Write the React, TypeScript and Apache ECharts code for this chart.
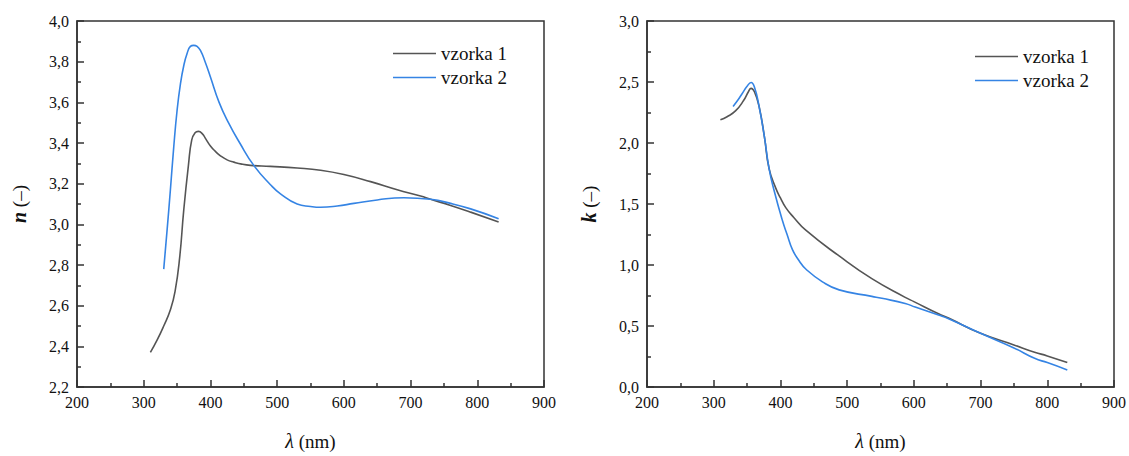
import React, { useEffect, useRef } from "react";
import * as echarts from "echarts";

const nLambda1 = [310, 320, 330, 340, 347, 354, 360, 367, 372, 377, 382, 388, 393, 400, 407, 415, 425, 435, 447, 460, 490, 530, 565, 600, 640, 680, 715, 730, 760, 790, 832];
const nValues1 = [2.37, 2.43, 2.5, 2.58, 2.67, 2.84, 3.07, 3.29, 3.415, 3.45, 3.457, 3.445, 3.42, 3.385, 3.36, 3.337, 3.317, 3.306, 3.296, 3.29, 3.285, 3.277, 3.266, 3.245, 3.21, 3.17, 3.139, 3.123, 3.093, 3.06, 3.012];
const nLambda2 = [330, 335, 340, 345, 350, 355, 360, 365, 370, 375, 380, 385, 392, 400, 413, 427, 444, 465, 490, 505, 530, 550, 565, 590, 615, 650, 690, 730, 760, 790, 832];
const nValues2 = [2.78, 2.97, 3.17, 3.38, 3.56, 3.69, 3.78, 3.84, 3.875, 3.88, 3.875, 3.855, 3.8, 3.725, 3.6, 3.5, 3.4, 3.29, 3.195, 3.15, 3.1, 3.088, 3.084, 3.09, 3.103, 3.12, 3.131, 3.123, 3.103, 3.076, 3.028];

const kLambda1 = [310, 320, 333, 345, 352, 356, 361, 368, 376, 383, 393, 400, 408, 420, 438, 488, 537, 587, 600, 637, 652, 700, 750, 781, 800, 830];
const kValues1 = [2.19, 2.215, 2.265, 2.35, 2.42, 2.448, 2.42, 2.3, 2.05, 1.79, 1.63, 1.55, 1.47, 1.39, 1.285, 1.074, 0.888, 0.735, 0.7, 0.6, 0.565, 0.44, 0.345, 0.285, 0.255, 0.2];
const kLambda2 = [329, 336, 343, 350, 356, 361, 368, 376, 383, 391, 403, 410, 418, 428, 438, 463, 488, 537, 552, 587, 602, 637, 652, 700, 750, 781, 800, 830];
const kValues2 = [2.3, 2.35, 2.408, 2.465, 2.496, 2.46, 2.3, 2.05, 1.79, 1.6, 1.364, 1.25, 1.126, 1.035, 0.967, 0.862, 0.796, 0.743, 0.727, 0.685, 0.655, 0.59, 0.56, 0.44, 0.32, 0.235, 0.2, 0.14];

const seriesNames = ["vzorka 1", "vzorka 2"];
const colors = ["#555555", "#3584e4"];

const zip = (xs: number[], ys: number[]) => xs.map((x, i) => [x, ys[i]]);

const FONT = "Liberation Serif";

function xAxisFor(gridIndex: number) {
  return {
    type: "value",
    gridIndex,
    min: 200,
    max: 900,
    interval: 100,
    name: "{i|λ} (nm)",
    nameLocation: "middle",
    nameGap: 44,
    nameTextStyle: {
      fontFamily: FONT,
      fontSize: 19,
      color: "#111",
      rich: { i: { fontStyle: "italic", fontFamily: FONT, fontSize: 20, color: "#111" } },
    },
    axisLine: { show: true, onZero: false, lineStyle: { color: "#333", width: 1.5 } },
    axisTick: { show: true, inside: true, length: 7, lineStyle: { color: "#333", width: 1.5 } },
    minorTick: { show: true, splitNumber: 2, length: 4, lineStyle: { color: "#333", width: 1.5 } },
    splitLine: { show: false },
    axisLabel: { fontFamily: FONT, fontSize: 16, color: "#111", margin: 7 },
  };
}

function yAxisFor(gridIndex: number, min: number, max: number, interval: number, letter: string) {
  return {
    type: "value",
    gridIndex,
    min,
    max,
    interval,
    name: "{i|" + letter + "} (–)",
    nameLocation: "middle",
    nameGap: 48,
    nameRotate: 90,
    nameTextStyle: {
      fontFamily: FONT,
      fontSize: 19,
      color: "#111",
      rich: { i: { fontStyle: "italic", fontWeight: "bold", fontFamily: FONT, fontSize: 20, color: "#111" } },
    },
    axisLine: { show: true, onZero: false, lineStyle: { color: "#333", width: 1.5 } },
    axisTick: { show: true, inside: true, length: 7, lineStyle: { color: "#333", width: 1.5 } },
    minorTick: { show: true, splitNumber: 2, length: 4, lineStyle: { color: "#333", width: 1.5 } },
    splitLine: { show: false },
    axisLabel: {
      fontFamily: FONT,
      fontSize: 16,
      color: "#111",
      margin: 8,
      formatter: (v: number) => v.toFixed(1).replace(".", ","),
    },
  };
}

function lineSeries(name: string, data: number[][], idx: number, color: string) {
  return {
    type: "line",
    name,
    data,
    xAxisIndex: idx,
    yAxisIndex: idx,
    smooth: 0.5,
    symbol: "none",
    lineStyle: { color, width: 1.6 },
    itemStyle: { color },
  };
}

function legendFor(left: number, top: number) {
  return {
    data: seriesNames.map((n) => ({ name: n, icon: "rect" })),
    orient: "vertical",
    left,
    top,
    padding: 0,
    itemWidth: 43,
    itemHeight: 1.6,
    itemGap: 5,
    selectedMode: false,
    textStyle: { fontFamily: FONT, fontSize: 19, lineHeight: 19, color: "#111" },
  };
}

export default function App() {
  const ref = useRef<HTMLDivElement>(null);
  useEffect(() => {
    if (!ref.current) return;
    const chart = echarts.init(ref.current, null, { renderer: "svg" });
    chart.setOption({
      animation: false,
      backgroundColor: "#ffffff",
      textStyle: { fontFamily: FONT },
      grid: [
        { left: 77, top: 21, width: 467, height: 378, show: true, borderColor: "#333", borderWidth: 1.5, backgroundColor: "transparent" },
        { left: 647, top: 21, width: 469, height: 378, show: true, borderColor: "#333", borderWidth: 1.5, backgroundColor: "transparent" },
      ],
      legend: [legendFor(393, 44), legendFor(975, 47)],
      xAxis: [xAxisFor(0), xAxisFor(1)],
      yAxis: [yAxisFor(0, 2.2, 4.0, 0.2, "n"), yAxisFor(1, 0, 3, 0.5, "k")],
      series: [
        lineSeries(seriesNames[0], zip(nLambda1, nValues1), 0, colors[0]),
        lineSeries(seriesNames[1], zip(nLambda2, nValues2), 0, colors[1]),
        lineSeries(seriesNames[0], zip(kLambda1, kValues1), 1, colors[0]),
        lineSeries(seriesNames[1], zip(kLambda2, kValues2), 1, colors[1]),
      ],
    });
    return () => chart.dispose();
  }, []);
  return (
    <div
      ref={ref}
      style={{ position: "absolute", left: 0, top: 0, width: 1129, height: 456, background: "#fff" }}
    />
  );
}
